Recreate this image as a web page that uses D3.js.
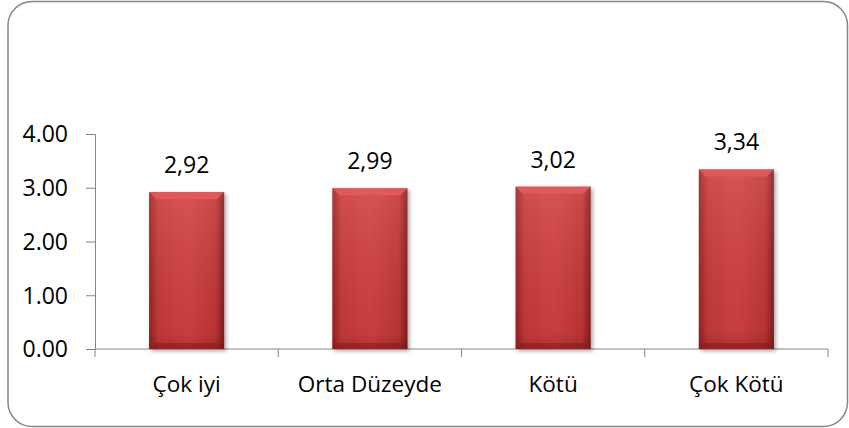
<!DOCTYPE html>
<meta charset="utf-8">
<html>
<head>
<style>
  body { margin: 0; background: #fff; }
  text { font-family: "Open Sans", sans-serif; fill: #000; }
</style>
</head>
<body>
<div id="chart"></div>
<script src="https://d3js.org/d3.v7.min.js"></script>
<script>
  // chart values
  var categories = ["Çok iyi", "Orta Düzeyde", "Kötü", "Çok Kötü"];
  var values = [2.92, 2.99, 3.02, 3.34];
  var valueLabels = ["2,92", "2,99", "3,02", "3,34"];
  var yTicks = [0, 1, 2, 3, 4];

  var W = 849, H = 428;
  var margin = {top: 134, right: 21, bottom: 79, left: 95},
      width = W - margin.left - margin.right,
      height = H - margin.top - margin.bottom;

  var svg = d3.select("#chart").append("svg")
      .attr("width", W).attr("height", H);

  // outer rounded frame
  svg.append("rect")
    .attr("x", 8).attr("y", 1.5)
    .attr("width", W - 9.5).attr("height", H - 3)
    .attr("rx", 24).attr("ry", 24)
    .attr("fill", "#fff")
    .attr("stroke", "#868686")
    .attr("stroke-width", 1.5);

  var defs = svg.append("defs");
  var grad = defs.append("linearGradient").attr("id", "barGrad")
    .attr("x1", "0").attr("x2", "1").attr("y1", "0").attr("y2", "0");
  grad.append("stop").attr("offset", "0").attr("stop-color", "#9c2222");
  grad.append("stop").attr("offset", "0.12").attr("stop-color", "#c93a3a");
  grad.append("stop").attr("offset", "0.5").attr("stop-color", "#d44242");
  grad.append("stop").attr("offset", "0.88").attr("stop-color", "#c43737");
  grad.append("stop").attr("offset", "1").attr("stop-color", "#8a1c1c");

  var vgrad = defs.append("linearGradient").attr("id", "barShade")
    .attr("x1", "0").attr("x2", "0").attr("y1", "0").attr("y2", "1");
  vgrad.append("stop").attr("offset", "0").attr("stop-color", "#fff").attr("stop-opacity", 0.1);
  vgrad.append("stop").attr("offset", "0.9").attr("stop-color", "#000").attr("stop-opacity", 0.06);
  vgrad.append("stop").attr("offset", "1").attr("stop-color", "#000").attr("stop-opacity", 0.2);

  var filt = defs.append("filter").attr("id", "shadow")
    .attr("x", "-20%").attr("y", "-20%").attr("width", "150%").attr("height", "150%");
  filt.append("feGaussianBlur").attr("in", "SourceAlpha").attr("stdDeviation", 2);
  filt.append("feOffset").attr("dx", 2).attr("dy", 2).attr("result", "b");
  filt.append("feComponentTransfer").append("feFuncA").attr("type", "linear").attr("slope", 0.35);
  var fm = filt.append("feMerge");
  fm.append("feMergeNode");
  fm.append("feMergeNode").attr("in", "SourceGraphic");

  var g = svg.append("g")
    .attr("transform", "translate(" + margin.left + "," + margin.top + ")");

  var x = d3.scaleBand().domain(categories).range([0, width]).paddingInner(0.59).paddingOuter(0.295);
  var xb = d3.scaleBand().domain(categories).range([0, width]);
  var y = d3.scaleLinear().domain([0, 4]).range([height, 0]);

  // y axis
  var yAxis = g.append("g")
    .call(d3.axisLeft(y).tickValues(yTicks).tickFormat(d3.format(".2f")).tickSizeOuter(0).tickSize(9).tickPadding(18));
  yAxis.select(".domain").attr("stroke", "#868686");
  yAxis.selectAll(".tick line").attr("stroke", "#868686");
  yAxis.selectAll("text").style("font-size", "23px").attr("dy", "0.34em").attr("fill", "#000");

  // x axis with ticks at category boundaries
  var xAxis = g.append("g").attr("transform", "translate(0," + height + ")");
  xAxis.append("line").attr("x1", 0).attr("x2", width).attr("stroke", "#868686");
  xAxis.selectAll(".sep").data(categories).enter().append("line")
    .attr("x1", function(d) { return xb(d) + xb.bandwidth(); })
    .attr("x2", function(d) { return xb(d) + xb.bandwidth(); })
    .attr("y1", 0).attr("y2", 8)
    .attr("stroke", "#868686");
  xAxis.append("line").attr("x1", 0).attr("x2", 0).attr("y1", 0).attr("y2", 8).attr("stroke", "#868686");
  xAxis.selectAll(".cat").data(categories).enter().append("text")
    .attr("x", function(d) { return xb(d) + xb.bandwidth() / 2; })
    .attr("y", 43)
    .attr("text-anchor", "middle")
    .style("font-size", "22.5px")
    .text(function(d) { return d; });

  // bars
  var bars = g.selectAll(".bar").data(values).enter().append("g").attr("class", "bar");
  bars.append("rect")
    .attr("x", function(d, i) { return x(categories[i]); })
    .attr("y", function(d) { return y(d); })
    .attr("width", x.bandwidth())
    .attr("height", function(d) { return height - y(d); })
    .attr("fill", "url(#barGrad)")
    .attr("filter", "url(#shadow)");
  bars.append("rect")
    .attr("x", function(d, i) { return x(categories[i]); })
    .attr("y", function(d) { return y(d); })
    .attr("width", x.bandwidth())
    .attr("height", function(d) { return height - y(d); })
    .attr("fill", "url(#barShade)");
  // top bevel
  bars.append("path")
    .attr("d", function(d, i) {
      var x0 = x(categories[i]), x1 = x0 + x.bandwidth(), t = y(d), b = 7;
      return "M" + x0 + "," + t + "L" + x1 + "," + t + "L" + (x1 - b) + "," + (t + b) + "L" + (x0 + b) + "," + (t + b) + "Z";
    })
    .attr("fill", "#e35a5a").attr("opacity", 0.9);
  // bottom bevel
  bars.append("path")
    .attr("d", function(d, i) {
      var x0 = x(categories[i]), x1 = x0 + x.bandwidth(), bt = height, b = 6;
      return "M" + x0 + "," + bt + "L" + x1 + "," + bt + "L" + (x1 - b) + "," + (bt - b) + "L" + (x0 + b) + "," + (bt - b) + "Z";
    })
    .attr("fill", "#8a1c1c").attr("opacity", 0.55);

  // value labels
  g.selectAll(".val").data(values).enter().append("text")
    .attr("x", function(d, i) { return x(categories[i]) + x.bandwidth() / 2; })
    .attr("y", function(d) { return y(d) - 19; })
    .attr("text-anchor", "middle")
    .style("font-size", "23px")
    .text(function(d, i) { return valueLabels[i]; });
</script>
</body>
</html>
